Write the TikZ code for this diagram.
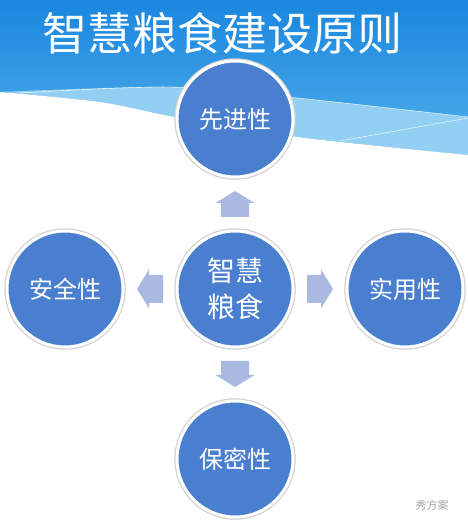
\documentclass[tikz,border=0pt]{standalone}
\usepackage{fontspec}
\newfontfamily\cjk{Noto Sans CJK SC}
\usetikzlibrary{positioning,calc}
\definecolor{circblue}{HTML}{4A7FCF}
\definecolor{arrowblue}{HTML}{A9B9E0}
\definecolor{skytop}{HTML}{1A86DE}
\definecolor{skybot}{HTML}{55B2EC}
\definecolor{band}{HTML}{93CFF2}

\begin{document}
\begin{tikzpicture}[x=1pt,y=1pt,node distance=170pt,on grid,
    principle/.style={draw=white, circle, line width=3pt, fill=circblue, minimum size=116pt,
      text=white, font=\cjk\fontsize{24}{30}\selectfont, preaction={draw=black!18, line width=5.5pt}},
    flow/.pic={\fill[arrowblue] (-13,-14) -- (1,-14) -- (1,-19.5) -- (13,0) -- (1,19.5)
      -- (1,14) -- (-13,14) -- cycle;}]
  \useasboundingbox (0,0) rectangle (468,525);

  % sky and wave
  \shade[top color=skytop, bottom color=skybot] (0,360) rectangle (468,525);
  \fill[band] plot[smooth] coordinates {(0,433) (170,438) (297,427) (468,408)}
    -- (468,370) -- plot[smooth] coordinates {(468,370) (297,388) (175,408) (100,423) (0,433)} -- cycle;
  \fill[white] plot[smooth] coordinates {(0,433) (100,423) (175,408) (297,388) (468,370)}
    -- (468,0) -- (0,0) -- cycle;
  \draw[white, thin] plot[smooth] coordinates {(20,432) (170,438) (297,427) (468,408)};
  \draw[white, thin] (340,384) -- (468,407);

  % title
  \node[text=white, font=\cjk\fontsize{45}{45}\selectfont] (title) at (222,492) {智慧粮食建设原则};

  % principles
  \node[principle, align=center, font=\cjk\fontsize{28}{36}\selectfont] (core) at (235,236) {智慧\\粮食};
  \node[principle, above=of core] (adv) {先进性};
  \node[principle, right=of core] (use) {实用性};
  \node[principle, below=of core] (sec) {保密性};
  \node[principle, left=of core] (safe) {安全性};

  \pic[rotate=90] (toadv) at ($(core)!0.5!(adv)$) {flow};
  \pic[rotate=0] (touse) at ($(core)!0.5!(use)$) {flow};
  \pic[rotate=270] (tosec) at ($(core)!0.5!(sec)$) {flow};
  \pic[rotate=180] (tosafe) at ($(core)!0.5!(safe)$) {flow};

  \node[text=black!35, font=\cjk\fontsize{11}{11}\selectfont] (mark) at (432,20) {秀方案};
\end{tikzpicture}
\end{document}
